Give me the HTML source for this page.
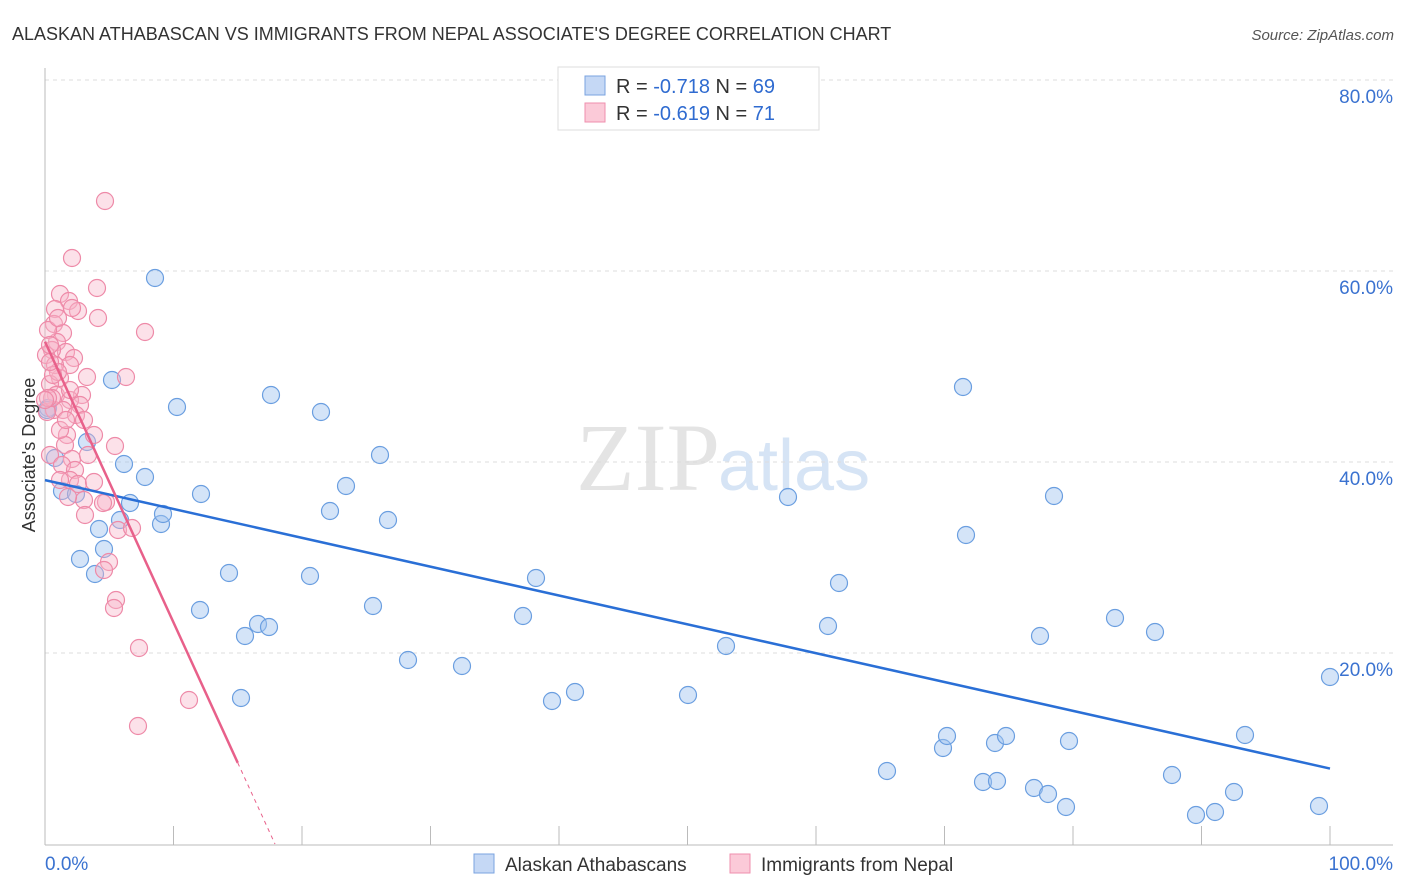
<!DOCTYPE html>
<html><head><meta charset="utf-8"><style>
body{margin:0;background:#fff;font-family:"Liberation Sans",sans-serif;}
svg{display:block}
</style></head><body>
<svg width="1406" height="892" id="chart">
<text x="12" y="40" font-size="18" fill="#333">ALASKAN ATHABASCAN VS IMMIGRANTS FROM NEPAL ASSOCIATE'S DEGREE CORRELATION CHART</text>
<text x="1394" y="40" font-size="15" fill="#555" font-style="italic" text-anchor="end">Source: ZipAtlas.com</text>
<text x="720" y="490" font-size="96" fill="#e4e4e4" text-anchor="end" font-family="Liberation Serif">ZIP</text>
<text x="718" y="490" font-size="72" fill="#d6e4f5">atlas</text>
<g id="grid"></g><g id="axes"></g><g id="pts"></g><g id="trend"></g>
<text x="35" y="455" font-size="18" fill="#333" text-anchor="middle" transform="rotate(-90 35 455)">Associate's Degree</text>
<g>
<rect x="558" y="67" width="261" height="63" fill="#fff" stroke="#ddd"/>
<rect x="585" y="76" width="20" height="19" fill="#c5d8f5" stroke="#7aa3e0"/>
<rect x="585" y="103" width="20" height="19" fill="#fbcad8" stroke="#ef8fae"/>
<text x="616" y="93" font-size="20" fill="#333">R = <tspan fill="#2f6bd0">-0.718</tspan>   N = <tspan fill="#2f6bd0">69</tspan></text>
<text x="616" y="120" font-size="20" fill="#333">R = <tspan fill="#2f6bd0">-0.619</tspan>   N = <tspan fill="#2f6bd0"> 71</tspan></text>
</g>
<g>
<rect x="474" y="854" width="20" height="19" fill="#c5d8f5" stroke="#7aa3e0"/>
<text x="505" y="871" font-size="19" fill="#333">Alaskan Athabascans</text>
<rect x="730" y="854" width="20" height="19" fill="#fbcad8" stroke="#ef8fae"/>
<text x="761" y="871" font-size="19" fill="#333">Immigrants from Nepal</text>
</g>
</svg>
<script>
const xTicks=[0,10,20,30,40,50,60,70,80,90,100];
const yTicks=[20,40,60,80];
const blueXY=[[155,278],[112,380],[177,407],[271,395],[321,412],[380,455],[346,486],[388,520],[330,511],[201,494],[145,477],[124,464],[87,442],[55,458],[62,491],[76,494],[130,503],[120,520],[161,524],[163,514],[99,529],[104,549],[80,559],[95,574],[229,573],[310,576],[200,610],[258,624],[269,627],[245,636],[373,606],[408,660],[462,666],[523,616],[536,578],[552,701],[575,692],[241,698],[688,695],[726,646],[788,497],[839,583],[828,626],[963,387],[966,535],[1054,496],[1040,636],[1115,618],[1155,632],[887,771],[943,748],[947,736],[995,743],[1006,736],[983,782],[997,781],[1034,788],[1048,794],[1066,807],[1069,741],[1172,775],[1196,815],[1215,812],[1234,792],[1245,735],[1319,806],[1330,677],[48,408],[47,410]];
const pinkXY=[[105,201],[72,258],[97,288],[60,294],[69,301],[78,311],[55,309],[98,318],[145,332],[54,324],[63,333],[57,342],[48,330],[66,352],[74,358],[52,350],[46,355],[70,365],[60,378],[87,377],[126,377],[50,384],[56,395],[82,395],[70,400],[80,405],[54,410],[63,410],[47,412],[76,415],[67,435],[94,435],[115,446],[65,445],[50,455],[72,459],[62,465],[75,470],[70,480],[78,484],[84,500],[106,502],[103,503],[118,530],[132,528],[85,515],[109,562],[104,570],[116,600],[114,608],[139,648],[189,700],[138,726],[50,345],[55,365],[58,372],[52,398],[60,430],[88,455],[70,390],[48,398],[53,375],[45,400],[84,420],[94,482],[60,480],[66,420],[68,497],[72,308],[58,318],[50,362]];
// convert pixel-read estimates to data values (percent)
const blueX=blueXY.map(p=>(p[0]-45)/12.85), blueY=blueXY.map(p=>(844-p[1])/9.55);
const pinkX=pinkXY.map(p=>(p[0]-45)/12.85), pinkY=pinkXY.map(p=>(844-p[1])/9.55);
const blueTrend=[[0,38.1],[100,7.9]];
const pinkTrend=[[0,52.6],[15,8.5],[17.9,0]];
const X=v=>45+v*12.85, Y=v=>844-v*9.55;
const NS="http://www.w3.org/2000/svg";
function mk(t,a,parent){const e=document.createElementNS(NS,t);for(const k in a)e.setAttribute(k,a[k]);document.getElementById(parent).appendChild(e);return e;}
yTicks.forEach(t=>{
 const l=mk('line',{x1:45,x2:1393,y1:Y(t),y2:Y(t),stroke:'#ddd','stroke-dasharray':'4,4'},'grid');
 
 
 const tx=mk('text',{x:1393,y:Y(t)+23,'font-size':19,fill:'#3a72d0','text-anchor':'end'},'grid');
 tx.textContent=t.toFixed(1)+'%';
 
 
});
let ax=mk('line',{x1:45,x2:45,y1:68,y2:845,stroke:'#bbb'},'axes');


ax=mk('line',{x1:45,x2:1393,y1:845,y2:845,stroke:'#bbb'},'axes');


xTicks.forEach(t=>{
 const l=mk('line',{x1:X(t),x2:X(t),y1:826,y2:845,stroke:'#bbb'},'axes');
 
 
});
[[0,'0.0%','start',45],[100,'100.0%','end',1393]].forEach(d=>{
 const tx=mk('text',{x:d[3],y:870,'font-size':19,fill:'#3a72d0','text-anchor':d[2]},'axes');
 tx.textContent=d[1];
 
 
});
blueX.forEach((x,i)=>{
 const c=mk('circle',{cx:X(x),cy:Y(blueY[i]),r:8.5,fill:'rgba(160,195,240,0.45)',stroke:'#6a9ee0','stroke-width':1.2},'pts');
 
 
});
pinkX.forEach((x,i)=>{
 const c=mk('circle',{cx:X(x),cy:Y(pinkY[i]),r:8.5,fill:'rgba(248,180,200,0.4)',stroke:'#ee8aa8','stroke-width':1.2},'pts');
 
 
});
let t=mk('line',{x1:X(blueTrend[0][0]),y1:Y(blueTrend[0][1]),x2:X(blueTrend[1][0]),y2:Y(blueTrend[1][1]),stroke:'#2a6fd6','stroke-width':2.5},'trend');


t=mk('line',{x1:X(pinkTrend[0][0]),y1:Y(pinkTrend[0][1]),x2:X(pinkTrend[1][0]),y2:Y(pinkTrend[1][1]),stroke:'#e8608a','stroke-width':2.5},'trend');


t=mk('line',{x1:X(pinkTrend[1][0]),y1:Y(pinkTrend[1][1]),x2:X(pinkTrend[2][0]),y2:Y(pinkTrend[2][1]),stroke:'#e8608a','stroke-width':1,'stroke-dasharray':'4,4'},'trend');


</script>
</body></html>
